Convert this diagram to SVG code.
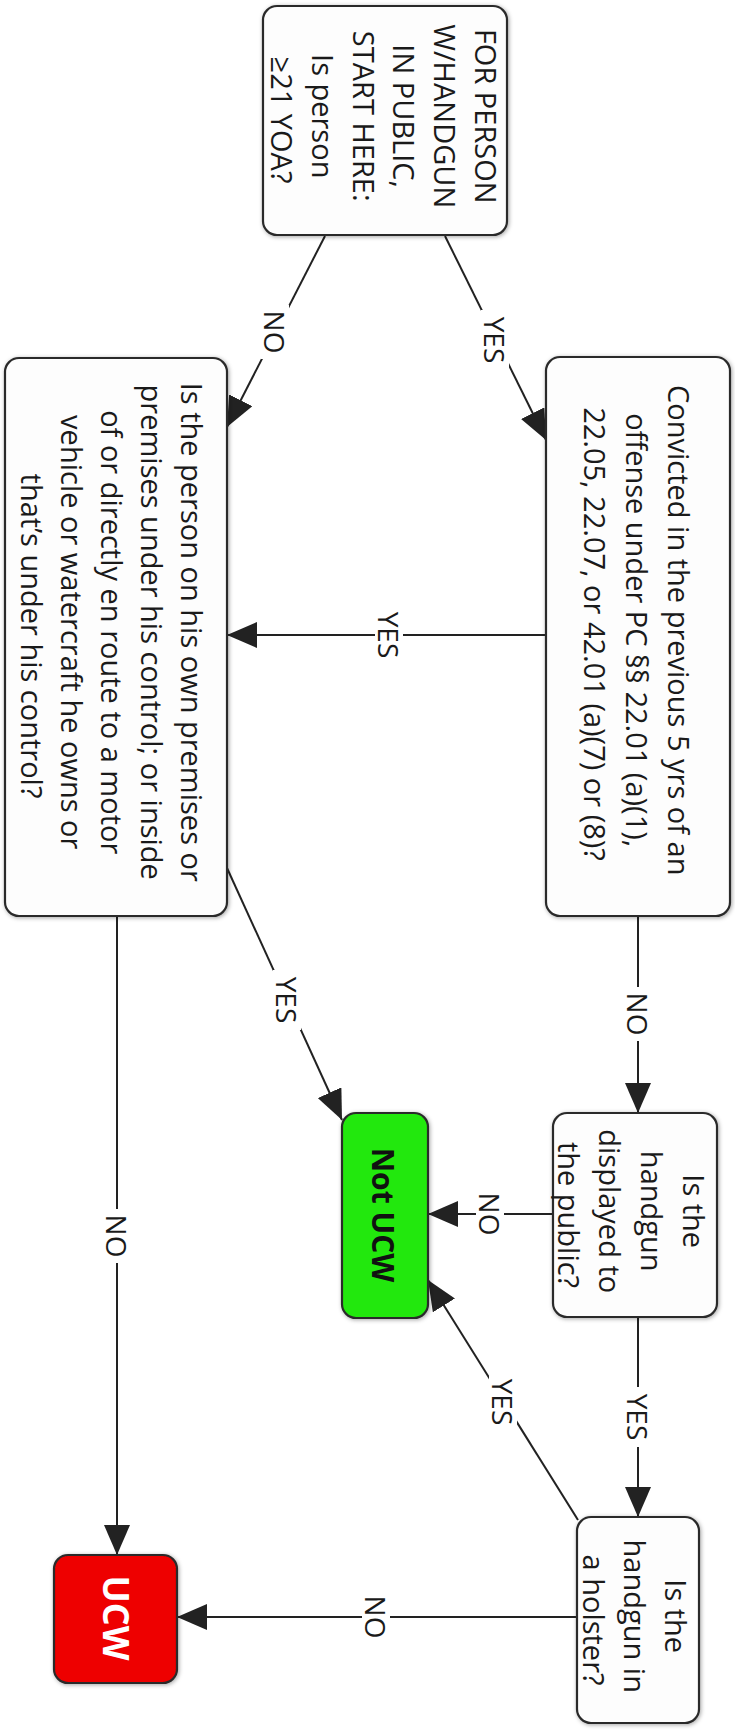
<svg xmlns="http://www.w3.org/2000/svg" width="735" height="1733" viewBox="0 0 735 1733">
<style>
.box{fill:#fdfdfd;stroke:#2b2b2b;stroke-width:2.2}
.green{fill:#22e80e;stroke:#2b2b2b;stroke-width:2.2}
.red{fill:#ee0000;stroke:#2b2b2b;stroke-width:2.2}
.t{font-family:"Open Sans","DejaVu Sans",sans-serif;font-size:29px;fill:#1a1a1a;text-anchor:middle;dominant-baseline:central}
.tb{font-family:"Open Sans","DejaVu Sans",sans-serif;font-size:30px;font-weight:bold;text-anchor:middle;dominant-baseline:central}
.edge{stroke:#222;stroke-width:2;fill:none;marker-end:url(#arr)}
.lbg{fill:#ffffff}
.lbl{font-family:"Open Sans","DejaVu Sans",sans-serif;font-size:28px;fill:#1a1a1a;text-anchor:middle;dominant-baseline:central}
</style>
<defs>
<marker id="arr" markerUnits="userSpaceOnUse" markerWidth="30" markerHeight="26" refX="30" refY="13" orient="auto">
<path d="M0,0 L30,13 L0,26 z" fill="#222"/>
</marker>
<filter id="sh" x="-10%" y="-10%" width="120%" height="120%">
<feDropShadow dx="1" dy="1" stdDeviation="2" flood-color="#000" flood-opacity="0.35"/>
</filter>
</defs>
<rect width="735" height="1733" fill="#ffffff"/>
<g id="connectors">
<line class="edge" x1="325" y1="236" x2="227" y2="427"/>
<line class="edge" x1="445" y1="236" x2="546" y2="440"/>
<line class="edge" x1="546" y1="635" x2="227" y2="635"/>
<line class="edge" x1="227" y1="868" x2="342" y2="1120"/>
<line class="edge" x1="117" y1="916" x2="117" y2="1555"/>
<line class="edge" x1="638" y1="916" x2="638" y2="1113"/>
<line class="edge" x1="553" y1="1214" x2="428" y2="1214"/>
<line class="edge" x1="638" y1="1317" x2="638" y2="1517"/>
<line class="edge" x1="578" y1="1520" x2="428" y2="1280"/>
<line class="edge" x1="577" y1="1617" x2="177" y2="1617"/>
<rect class="lbg" x="261" y="305" width="28" height="54"/>
<text class="lbl" transform="translate(275,332) rotate(90)">NO</text>
<rect class="lbg" x="481" y="310" width="28" height="60"/>
<text class="lbl" transform="translate(495,340) rotate(90)">YES</text>
<rect class="lbg" x="375" y="605" width="28" height="60"/>
<text class="lbl" transform="translate(389,635) rotate(90)">YES</text>
<rect class="lbg" x="273" y="970" width="28" height="60"/>
<text class="lbl" transform="translate(287,1000) rotate(90)">YES</text>
<rect class="lbg" x="103" y="1209" width="28" height="54"/>
<text class="lbl" transform="translate(117,1236) rotate(90)">NO</text>
<rect class="lbg" x="624" y="987" width="28" height="54"/>
<text class="lbl" transform="translate(638,1014) rotate(90)">NO</text>
<rect class="lbg" x="476" y="1187" width="28" height="54"/>
<text class="lbl" transform="translate(490,1214) rotate(90)">NO</text>
<rect class="lbg" x="624" y="1387" width="28" height="60"/>
<text class="lbl" transform="translate(638,1417) rotate(90)">YES</text>
<rect class="lbg" x="489" y="1372" width="28" height="60"/>
<text class="lbl" transform="translate(503,1402) rotate(90)">YES</text>
<rect class="lbg" x="362" y="1590" width="28" height="54"/>
<text class="lbl" transform="translate(376,1617) rotate(90)">NO</text>
</g>
<g id="start">
<rect class="box" filter="url(#sh)" x="263" y="6" width="244" height="229" rx="14"/>
<text class="t" transform="translate(385,120) rotate(90)">
<tspan x="0" y="-102">FOR PERSON</tspan>
<tspan x="0" y="-61.2">W/HANDGUN</tspan>
<tspan x="0" y="-20.4">IN PUBLIC,</tspan>
<tspan x="0" y="20.4">START HERE:</tspan>
<tspan x="0" y="61.2">Is person</tspan>
<tspan x="0" y="102">≥21 YOA?</tspan>
</text>
</g>
<g id="convicted">
<rect class="box" filter="url(#sh)" x="546" y="357" width="184" height="559" rx="14"/>
<text class="t" transform="translate(638,634) rotate(90)">
<tspan x="0" y="-42">Convicted in the previous 5 yrs of an</tspan>
<tspan x="0" y="0">offense under PC §§ 22.01 (a)(1),</tspan>
<tspan x="0" y="42">22.05, 22.07, or 42.01 (a)(7) or (8)?</tspan>
</text>
</g>
<g id="premises">
<rect class="box" filter="url(#sh)" x="5" y="358" width="222" height="558" rx="14"/>
<text class="t" transform="translate(113,636) rotate(90)">
<tspan x="0" y="-80">Is the person on his own premises or</tspan>
<tspan x="0" y="-40">premises under his control; or inside</tspan>
<tspan x="0" y="0">of or directly en route to a motor</tspan>
<tspan x="0" y="40">vehicle or watercraft he owns or</tspan>
<tspan x="0" y="80">that’s under his control?</tspan>
</text>
</g>
<g id="displayed">
<rect class="box" filter="url(#sh)" x="553" y="1113" width="164" height="204" rx="14"/>
<text class="t" transform="translate(632,1215) rotate(90)">
<tspan x="0" y="-62.5">Is the</tspan>
<tspan x="0" y="-20.8">handgun</tspan>
<tspan x="0" y="20.8">displayed to</tspan>
<tspan x="0" y="62.5">the public?</tspan>
</text>
</g>
<g id="notucw">
<rect class="green" filter="url(#sh)" x="342" y="1113" width="86" height="205" rx="14"/>
<text class="tb" fill="#111" transform="translate(383,1215) rotate(90)">Not UCW</text>
</g>
<g id="holster">
<rect class="box" filter="url(#sh)" x="577" y="1517" width="122" height="206" rx="14"/>
<text class="t" transform="translate(636,1620) rotate(90)">
<tspan x="0" y="-41">Is the</tspan>
<tspan x="0" y="0">handgun in</tspan>
<tspan x="0" y="41">a holster?</tspan>
</text>
</g>
<g id="ucw">
<rect class="red" filter="url(#sh)" x="54" y="1555" width="123" height="128" rx="14"/>
<text class="tb" fill="#ffffff" style="font-size:36px" transform="translate(116,1618) rotate(90)">UCW</text>
</g>
</svg>
